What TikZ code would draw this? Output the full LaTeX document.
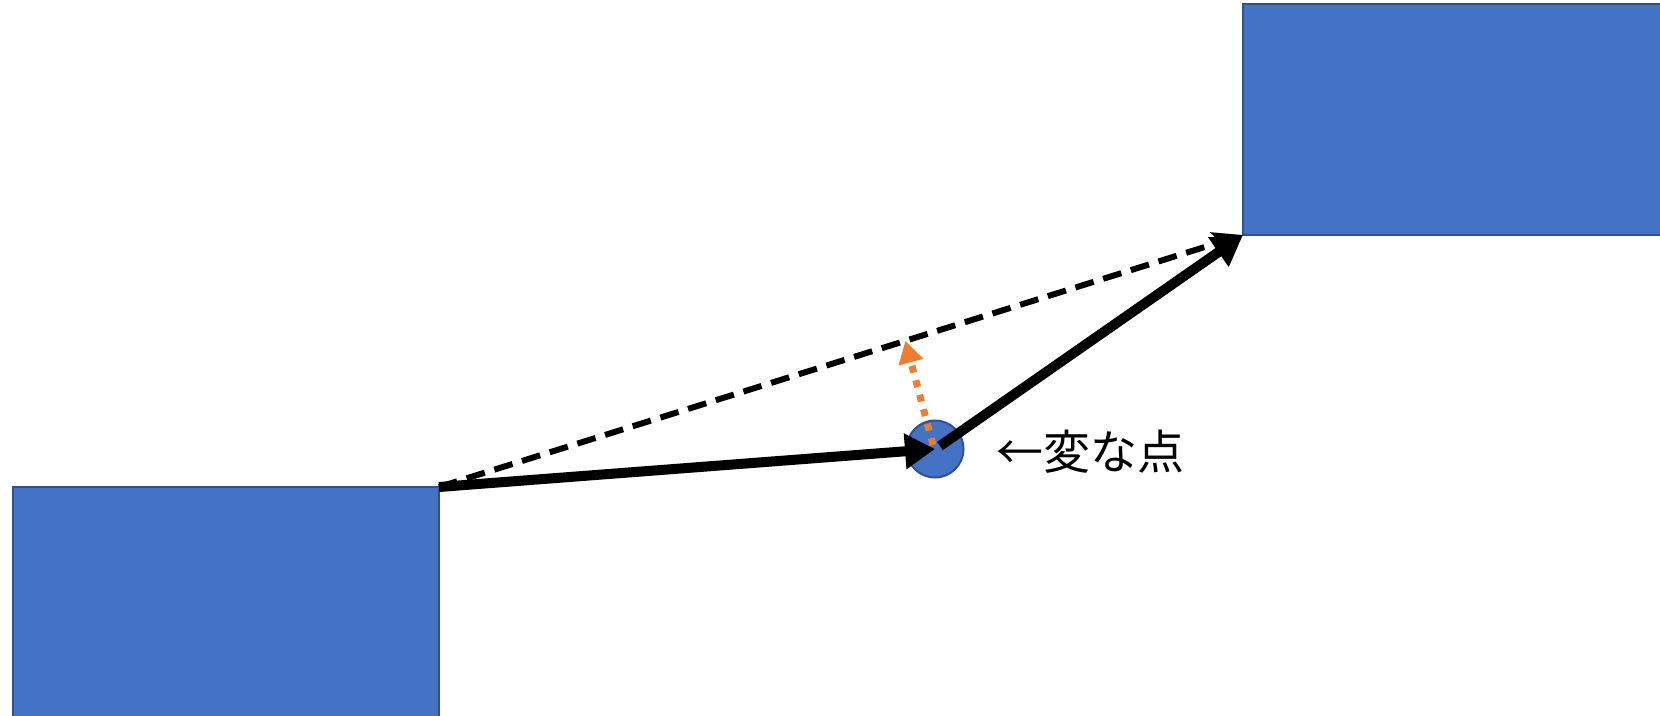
\documentclass[tikz,border=0pt]{standalone}
\usepackage{fontspec}
\newfontfamily\cjk{Noto Sans CJK JP}
\usetikzlibrary{arrows.meta,calc}
\definecolor{boxblue}{HTML}{4472C4}
\definecolor{boxedge}{HTML}{2F528F}
\definecolor{orng}{HTML}{ED7D31}
\tikzset{
  blockbox/.style={draw=boxedge, fill=boxblue, line width=2pt, inner sep=0pt, outer sep=0pt},
  dotbox/.style={circle, draw=boxedge, fill=boxblue, line width=2pt, inner sep=0pt, minimum size=57pt},
  thickarrow/.style={line width=10pt, -{Triangle[length=30pt,width=34pt]}},
  dasharrow/.style={line width=6pt, dash pattern=on 19pt off 10pt, -{Stealth[length=30pt,width=24pt,inset=6pt]}},
  dotarrow/.style={draw=orng, line width=7pt, dash pattern=on 7pt off 8pt, -{Triangle[length=22pt,width=24pt]}},
  labeltext/.style={inner sep=0pt, font=\cjk\fontsize{47}{50}\selectfont}
}
\begin{document}
\begin{tikzpicture}[x=1pt,y=-1pt]
\useasboundingbox (0,0) rectangle (1660,715);
\node[blockbox, minimum width=426pt, minimum height=250pt, anchor=north west] (L) at (13,487) {};
\node[blockbox, minimum width=430pt, minimum height=231pt, anchor=south west] (R) at (1243,235) {};
\node[dotbox] (C) at (935,449) {};
\node[labeltext, anchor=west] (T) at (996,452) {←変な点};
\coordinate (P) at ($(L.north east)!0.58!(R.south west)$);
\draw[dasharrow] (L.north east) -- (R.south west);
\draw[thickarrow] (L.north east) -- (C.center);
\draw[thickarrow] ($(C.center)+(5,-3)$) -- (R.south west);
\draw[dotarrow] ($(C.center)+(-2,-4)$) -- (P);
\end{tikzpicture}
\end{document}
